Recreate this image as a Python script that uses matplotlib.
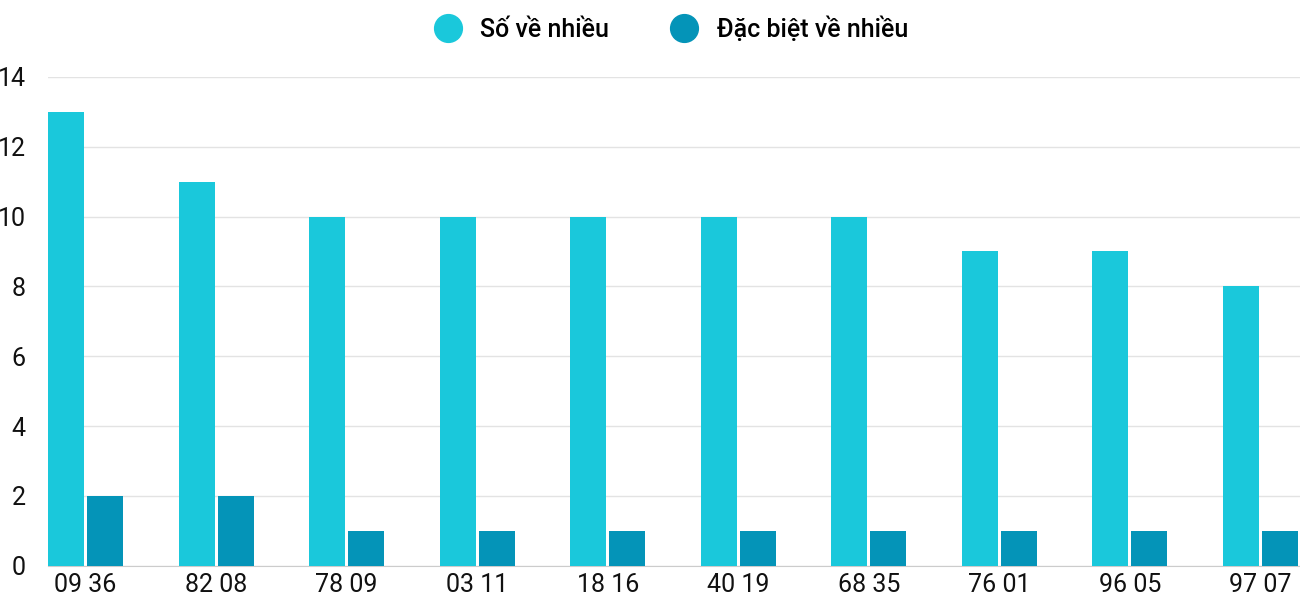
import matplotlib
matplotlib.use("Agg")
import matplotlib.pyplot as plt
from matplotlib.lines import Line2D

categories = ["09 36", "82 08", "78 09", "03 11", "18 16", "40 19", "68 35", "76 01", "96 05", "97 07"]
so_ve_nhieu = [13, 11, 10, 10, 10, 10, 10, 9, 9, 8]
dac_biet = [2, 2, 1, 1, 1, 1, 1, 1, 1, 1]

plt.rcParams['font.family'] = ['Roboto', 'DejaVu Sans']
c1, c2 = "#1AC8DB", "#0494B8"
fig = plt.figure(figsize=(13, 6), dpi=100)
ax = fig.add_axes([0.037, 0.057, 0.963, 0.815])
w = 0.276
xs = list(range(len(categories)))
ax.bar([x for x in xs], so_ve_nhieu, width=w, align='edge', color=c1, zorder=3)
ax.bar([x + 0.298 for x in xs], dac_biet, width=w, align='edge', color=c2, zorder=3)
ax.set_xlim(0, 9.59)
ax.set_ylim(0, 14)
ax.set_yticks(range(0, 15, 2))
ax.set_xticks([x + 0.287 for x in xs])
ax.set_xticklabels(categories)
ax.tick_params(axis='both', length=0, labelsize=18, colors='#111111')
ax.tick_params(axis='y', pad=16)
ax.tick_params(axis='x', pad=5)
ax.grid(axis='y', color='#e3e3e3', linewidth=1, zorder=0)
for s in ['top', 'right', 'left']:
    ax.spines[s].set_visible(False)
ax.spines['bottom'].set_color('#cccccc')
handles = [Line2D([], [], marker='o', linestyle='', markersize=20, color=c1),
           Line2D([], [], marker='o', linestyle='', markersize=20, color=c2)]
fig.legend(handles, ["Số về nhiều", "Đặc biệt về nhiều"], loc='upper center',
           bbox_to_anchor=(0.512, 1.01), ncol=2, frameon=False,
           prop={'size': 18, 'weight': 'medium'},
           handletextpad=0.3, columnspacing=2.0)
fig.savefig("out.png", dpi=100)
